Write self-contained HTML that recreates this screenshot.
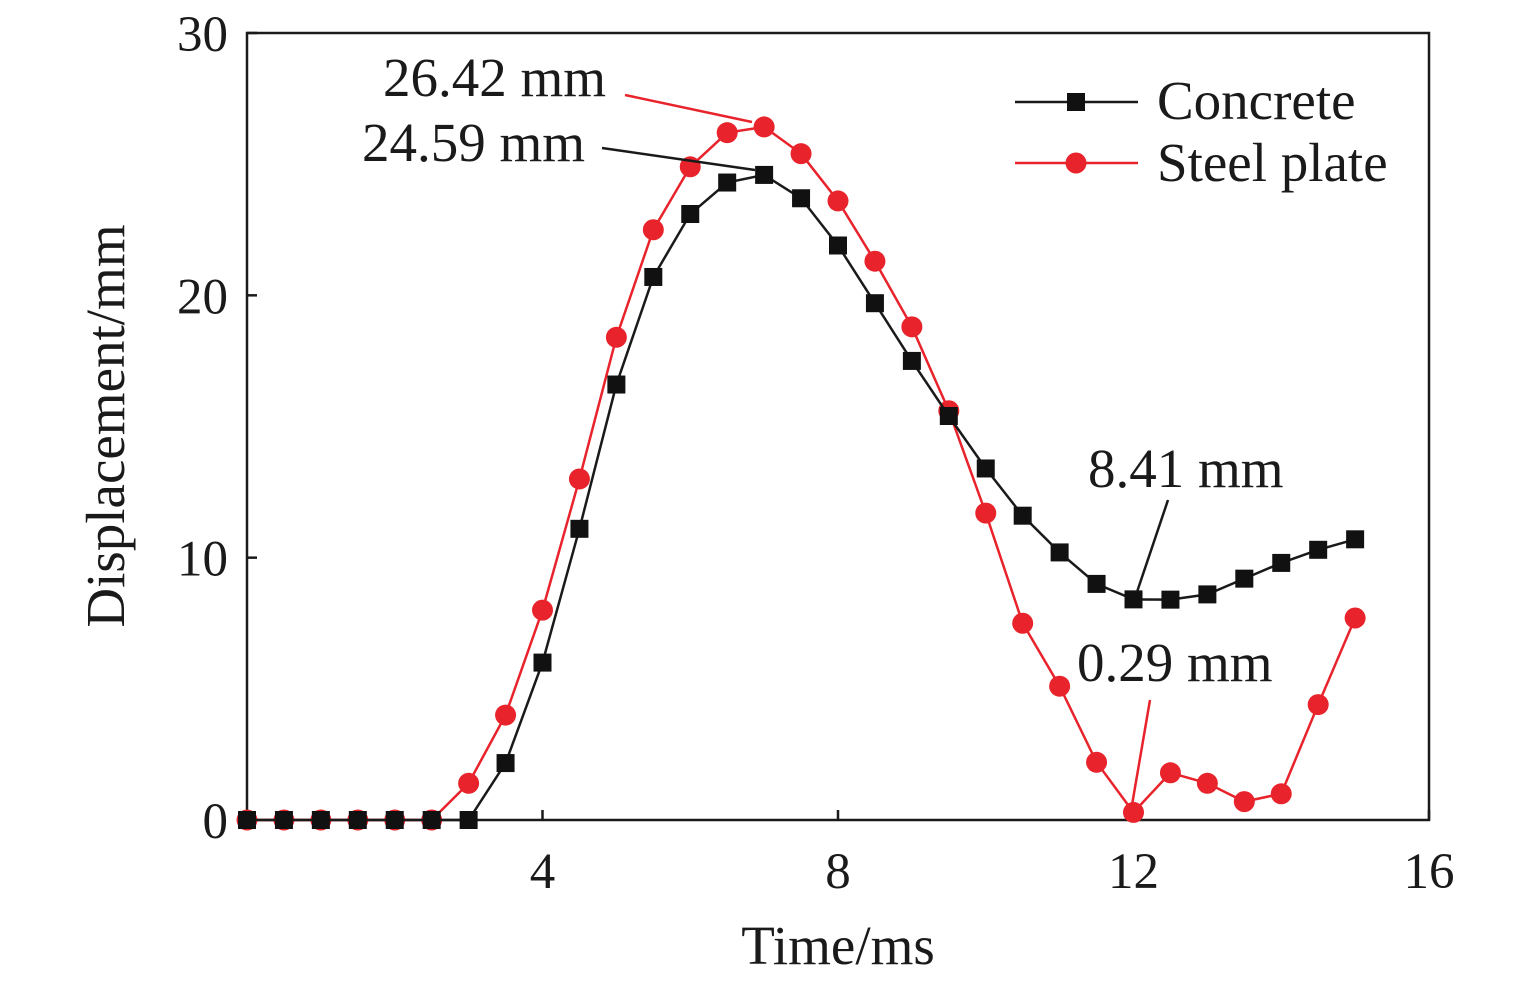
<!DOCTYPE html>
<html><head><meta charset="utf-8"><style>
body{margin:0;background:#fff}
svg text{font-family:"Liberation Serif",serif;fill:#1a1a1a}
</style></head><body>
<svg id="chart" width="1535" height="984" viewBox="0 0 1535 984" xmlns="http://www.w3.org/2000/svg">
<rect x="247" y="33" width="1182" height="787" fill="none" stroke="#1a1a1a" stroke-width="2.5"/>
<g id="ticks"></g>
<g id="series"></g>
<text x="838" y="964" font-size="55" text-anchor="middle">Time/ms</text>
<text transform="translate(124,426) rotate(-90)" font-size="55" text-anchor="middle">Displacement/mm</text>
<g>
<text x="383" y="96" font-size="55">26.42 mm</text>
<line x1="625" y1="95" x2="752" y2="122" stroke="#e8232b" stroke-width="2.5"/>
<text x="362" y="161" font-size="55">24.59 mm</text>
<line x1="602" y1="148" x2="755" y2="170" stroke="#1a1a1a" stroke-width="2.5"/>
<text x="1088" y="487" font-size="55">8.41 mm</text>
<line x1="1168" y1="500" x2="1137" y2="592" stroke="#1a1a1a" stroke-width="2.5"/>
<text x="1077" y="681" font-size="55">0.29 mm</text>
<line x1="1150" y1="700" x2="1132" y2="805" stroke="#e8232b" stroke-width="2.5"/>
</g>
<g>
<g>
<line x1="1015" y1="102" x2="1138" y2="102" stroke="#1a1a1a" stroke-width="2.5"/>
<rect x="1067" y="93" width="18" height="18" fill="#111"/>
<text x="1157" y="119" font-size="55">Concrete</text></g>
<g>
<line x1="1015" y1="163" x2="1138" y2="163" stroke="#e8232b" stroke-width="2.5"/>
<circle cx="1076" cy="163" r="10.5" fill="#e8232b"/>
<text x="1157" y="181" font-size="55">Steel plate</text></g>
</g>
</svg>
<script>
const times=[0,0.5,1,1.5,2,2.5,3,3.5,4,4.5,5,5.5,6,6.5,7,7.5,8,8.5,9,9.5,10,10.5,11,11.5,12,12.5,13,13.5,14,14.5,15];
const concrete=[0,0,0,0,0,0,0,2.17,6.0,11.1,16.6,20.7,23.1,24.3,24.59,23.7,21.9,19.7,17.5,15.4,13.4,11.6,10.2,9.0,8.41,8.4,8.6,9.2,9.8,10.3,10.7];
const steel=[0,0,0,0,0,0,1.4,4.0,8.0,13.0,18.4,22.5,24.9,26.2,26.42,25.4,23.6,21.3,18.8,15.6,11.7,7.5,5.1,2.2,0.29,1.8,1.4,0.7,1.0,4.4,7.7];
const xTicks=[4,8,12,16];
const yTicks=[0,10,20,30];
const NS="http://www.w3.org/2000/svg";
const xs=t=>247+t*(1182/16);
const ys=v=>820-v*(787/30);
function mk(tag,attrs,parent){const e=document.createElementNS(NS,tag);for(const k in attrs)e.setAttribute(k,attrs[k]);parent.appendChild(e);return e;}
const tg=document.getElementById('ticks');
xTicks.forEach(t=>{
  const l=mk('line',{x1:xs(t),x2:xs(t),y1:820,y2:810,stroke:'#1a1a1a','stroke-width':2.5},tg);
  
  
  const tx=mk('text',{x:xs(t),y:888,'font-size':51,'text-anchor':'middle'},tg);tx.textContent=t;
  
  
});
yTicks.forEach(v=>{
  const l=mk('line',{x1:247,x2:257,y1:ys(v),y2:ys(v),stroke:'#1a1a1a','stroke-width':2.5},tg);
  
  
  const tx=mk('text',{x:228,y:ys(v)+18,'font-size':51,'text-anchor':'end'},tg);tx.textContent=v;
  
  
});
const sg=document.getElementById('series');
function draw(vals,color,shape,name){
  const g=mk('g',{},sg);
  
  
  const pl=mk('polyline',{points:vals.map((v,i)=>xs(times[i])+','+ys(v)).join(' '),fill:'none',stroke:color,'stroke-width':2.5},g);
  
  
  vals.forEach((v,i)=>{
    let m;
    if(shape==='sq')m=mk('rect',{x:xs(times[i])-9,y:ys(v)-9,width:18,height:18,fill:'#111'},g);
    else m=mk('circle',{cx:xs(times[i]),cy:ys(v),r:10.5,fill:color},g);
    
    
  });
}
draw(steel,'#e8232b','ci','steel-plate');
draw(concrete,'#1a1a1a','sq','concrete');
</script>
</body></html>
